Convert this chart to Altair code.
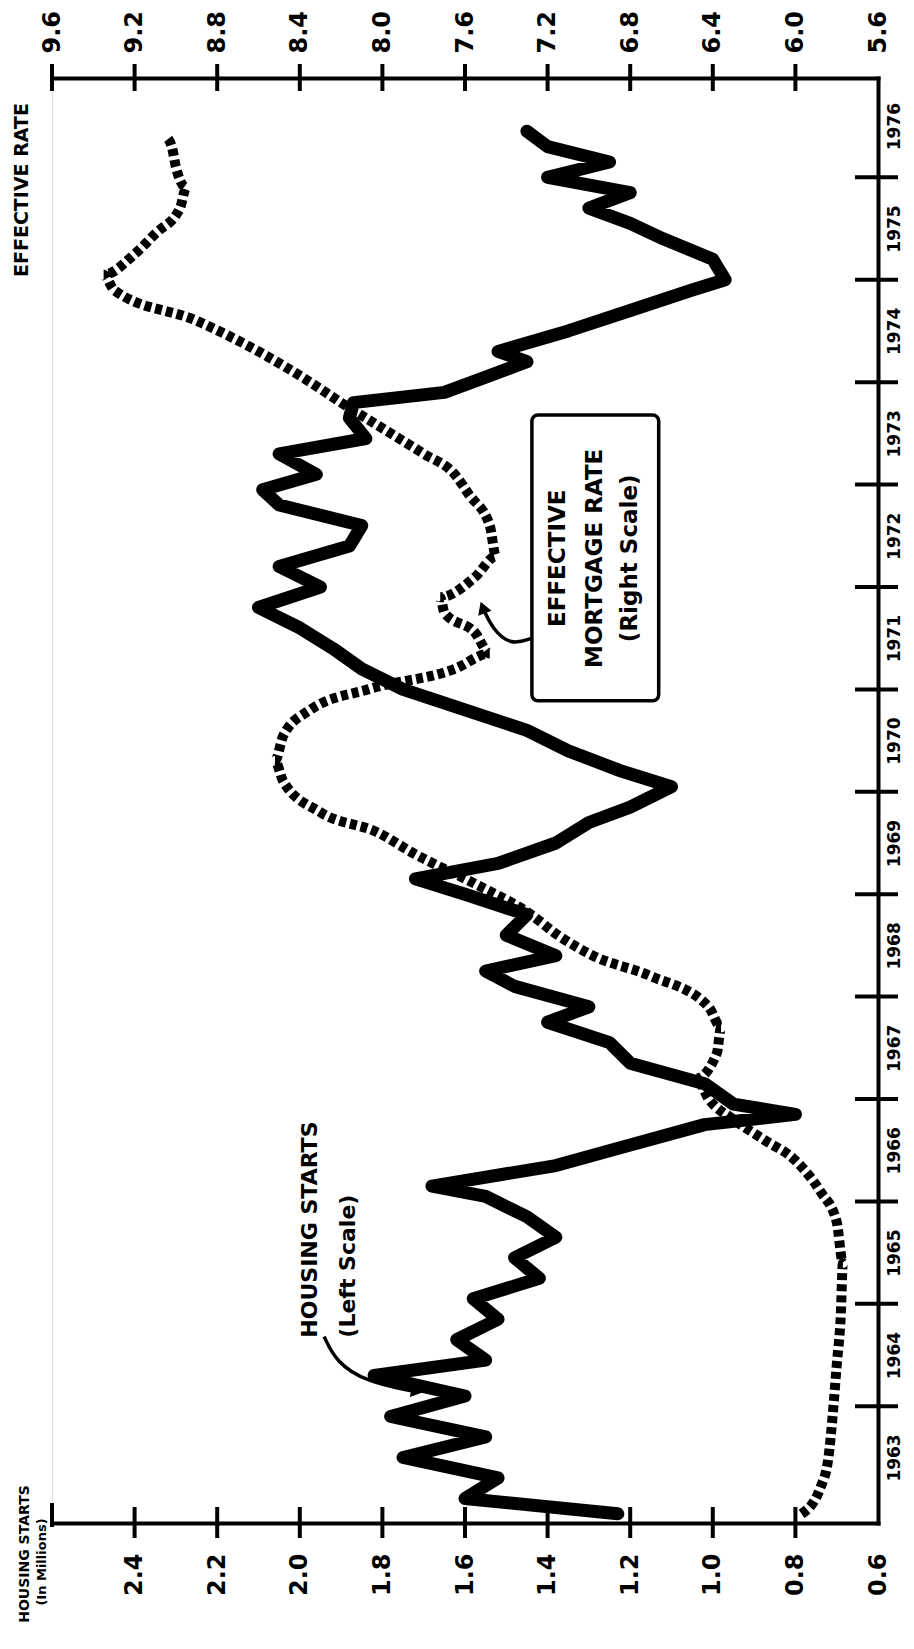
import altair as alt
import pandas as pd

# ---------------- data ----------------
hs_year = [1962.95, 1963.10, 1963.30, 1963.50, 1963.70, 1963.90, 1964.10, 1964.30, 1964.45, 1964.65,
           1964.85, 1965.05, 1965.25, 1965.45, 1965.65, 1965.85, 1966.05, 1966.15, 1966.35, 1966.55,
           1966.75, 1966.85, 1966.95, 1967.15, 1967.35, 1967.55, 1967.75, 1967.90, 1968.10, 1968.25,
           1968.40, 1968.60, 1968.80, 1969.00, 1969.15, 1969.30, 1969.50, 1969.70, 1969.85, 1970.05,
           1970.20, 1970.40, 1970.60, 1970.80, 1971.00, 1971.20, 1971.40, 1971.60, 1971.80, 1972.00,
           1972.20, 1972.40, 1972.60, 1972.80, 1972.95, 1973.10, 1973.30, 1973.45, 1973.65, 1973.80,
           1973.90, 1974.05, 1974.20, 1974.30, 1974.50, 1974.70, 1974.90, 1975.00, 1975.20, 1975.40,
           1975.55, 1975.70, 1975.85, 1976.00, 1976.15, 1976.30, 1976.45]
hs_value = [1.23, 1.60, 1.52, 1.75, 1.55, 1.78, 1.60, 1.82, 1.55, 1.62,
            1.52, 1.58, 1.42, 1.48, 1.38, 1.45, 1.55, 1.68, 1.38, 1.20,
            1.02, 0.80, 0.95, 1.02, 1.20, 1.25, 1.40, 1.30, 1.48, 1.55,
            1.38, 1.50, 1.45, 1.60, 1.72, 1.52, 1.38, 1.30, 1.20, 1.10,
            1.22, 1.35, 1.45, 1.60, 1.75, 1.85, 1.92, 2.00, 2.10, 1.95,
            2.05, 1.88, 1.85, 2.05, 2.09, 1.96, 2.05, 1.84, 1.88, 1.87,
            1.65, 1.55, 1.45, 1.52, 1.35, 1.20, 1.05, 0.97, 1.00, 1.12,
            1.20, 1.30, 1.20, 1.40, 1.25, 1.40, 1.45]

mr_year = [1962.95, 1963.20, 1963.50, 1963.90, 1964.40, 1964.90, 1965.40, 1965.80, 1966.10, 1966.40,
           1966.60, 1966.80, 1967.00, 1967.20, 1967.45, 1967.70, 1967.90, 1968.20, 1968.40, 1968.60,
           1968.80, 1969.10, 1969.40, 1969.60, 1969.80, 1970.10, 1970.30, 1970.55, 1970.80, 1971.00,
           1971.20, 1971.35, 1971.55, 1971.75, 1971.90, 1972.10, 1972.30, 1972.60, 1972.90, 1973.10,
           1973.30, 1973.55, 1973.80, 1974.00, 1974.30, 1974.60, 1974.90, 1975.05, 1975.25, 1975.45,
           1975.70, 1975.90, 1976.10, 1976.30, 1976.40]
mr_value = [5.97, 5.88, 5.84, 5.82, 5.80, 5.78, 5.77, 5.80, 5.88, 6.00,
            6.15, 6.30, 6.42, 6.48, 6.38, 6.36, 6.42, 6.70, 6.98, 7.15,
            7.28, 7.55, 7.85, 8.02, 8.30, 8.48, 8.52, 8.48, 8.35, 8.07,
            7.65, 7.48, 7.55, 7.70, 7.72, 7.55, 7.45, 7.48, 7.58, 7.65,
            7.80, 8.00, 8.20, 8.35, 8.60, 8.90, 9.30, 9.35, 9.20, 9.10,
            8.98, 8.95, 9.00, 9.02, 9.05]

hs_ticks = [0.8, 1.0, 1.2, 1.4, 1.6, 1.8, 2.0, 2.2, 2.4]
hs_labels = [0.6, 0.8, 1.0, 1.2, 1.4, 1.6, 1.8, 2.0, 2.2, 2.4]
mr_ticks = [6.0, 6.4, 6.8, 7.2, 7.6, 8.0, 8.4, 8.8, 9.2, 9.6]
mr_labels = [5.6, 6.0, 6.4, 6.8, 7.2, 7.6, 8.0, 8.4, 8.8, 9.2, 9.6]
year_ticks = list(range(1964, 1977))
year_labels = [y + 0.5 for y in range(1963, 1977)]

HS_DOMAIN = [0.6, 2.6]
MR_DOMAIN = [5.6, 9.6]
YR_DOMAIN = [1962.86, 1976.97]
W, H = 826, 1445
FONT = "DejaVu Sans"

hs = pd.DataFrame({"year": hs_year, "v": hs_value})
mr = pd.DataFrame({"year": mr_year, "v": mr_value})

hscale = alt.Scale(domain=HS_DOMAIN, reverse=True, nice=False, zero=False)
mscale = alt.Scale(domain=MR_DOMAIN, reverse=True, nice=False, zero=False)
yscale = alt.Scale(domain=YR_DOMAIN, nice=False, zero=False)

y_axis = alt.Axis(values=year_labels, labelExpr="floor(datum.value)", orient="right",
                  ticks=False, grid=False, domain=True, domainColor="black", domainWidth=4,
                  domainCap="square", labelAngle=270, labelAlign="center",
                  labelBaseline="top", labelPadding=8, labelFont=FONT, labelFontSize=17,
                  labelFontWeight="bold", labelColor="black", title=None,
                  labelOverlap=False, labelFlush=False, labelBound=False)

hs_axis = alt.Axis(values=hs_labels, format=".1f", orient="bottom", ticks=False, grid=False,
                   domainColor="black", domainWidth=4, domainCap="square", labelAngle=270,
                   labelAlign="right", labelBaseline="middle", labelPadding=30,
                   labelFont=FONT, labelFontSize=24, labelFontWeight="bold",
                   labelColor="black", title=None, labelOverlap=False, labelFlush=False,
                   labelBound=False)

mr_axis = alt.Axis(values=mr_labels, format=".1f", orient="top", ticks=False, grid=False,
                   domainColor="black", domainWidth=4, domainCap="square", labelAngle=270,
                   labelAlign="left", labelBaseline="middle", labelPadding=25,
                   labelFont=FONT, labelFontSize=24, labelFontWeight="bold",
                   labelColor="black", title=None, labelOverlap=False, labelFlush=False,
                   labelBound=False)

hs_line = alt.Chart(hs).mark_line(color="black", strokeWidth=13, strokeJoin="round",
                                  strokeCap="round").encode(
    x=alt.X("v:Q", scale=hscale, axis=hs_axis),
    y=alt.Y("year:Q", scale=yscale, axis=y_axis),
    order="year:Q",
)

mr_line = alt.Chart(mr).mark_line(color="black", strokeWidth=10, strokeDash=[7, 4],
                                  strokeCap="butt", interpolate="monotone").encode(
    x=alt.X("v:Q", scale=mscale, axis=mr_axis),
    y=alt.Y("year:Q", scale=yscale, axis=None),
    order="year:Q",
)

# crossing tick marks
bt = alt.Chart(pd.DataFrame({"v": hs_ticks})).mark_rule(color="black", strokeWidth=4).encode(
    x=alt.X("v:Q", scale=hscale, axis=None), y=alt.value(H - 16), y2=alt.value(H + 15))
bcap = alt.Chart(pd.DataFrame({"v": [2.6]})).mark_rule(color="black", strokeWidth=4).encode(
    x=alt.X("v:Q", scale=hscale, axis=None), y=alt.value(H - 20), y2=alt.value(H + 4))
tt = alt.Chart(pd.DataFrame({"v": mr_ticks})).mark_rule(color="black", strokeWidth=4).encode(
    x=alt.X("v:Q", scale=mscale, axis=None), y=alt.value(-14), y2=alt.value(13))
yt = alt.Chart(pd.DataFrame({"v": year_ticks})).mark_rule(color="black", strokeWidth=4).encode(
    y=alt.Y("v:Q", scale=yscale, axis=None), x=alt.value(W - 23), x2=alt.value(W + 20))

caption_df = pd.DataFrame({
    "t": ["EFFECTIVE RATE", "HOUSING STARTS", "(In Millions)"],
    "px": [-30, -27, -10],
    "py": [112, 1476, 1484],
    "fs": [19, 14, 13],
})
captions = alt.Chart(caption_df).mark_text(angle=270, align="center", baseline="middle",
                                           font=FONT, fontWeight="bold", color="black").encode(
    x=alt.X("px:Q", scale=None), y=alt.Y("py:Q", scale=None), text="t:N",
    size=alt.Size("fs:Q", scale=None, legend=None))

hs_note = pd.DataFrame({"t": ["HOUSING STARTS", "(Left Scale)"], "v": [1.975, 1.883],
                        "year": [1964.67, 1964.67]})
hs_note_text = alt.Chart(hs_note).mark_text(angle=270, align="left", baseline="middle",
                                            font=FONT, fontWeight="bold", fontSize=22,
                                            color="black").encode(
    x=alt.X("v:Q", scale=hscale, axis=None), y=alt.Y("year:Q", scale=yscale, axis=None),
    text="t:N")
hs_arrow = pd.DataFrame({"v": [1.941, 1.912, 1.839, 1.73], "year": [1964.68, 1964.43, 1964.24, 1964.15],
                         "o": [0, 1, 2, 3]})
hs_arrow_line = alt.Chart(hs_arrow).mark_line(color="black", strokeWidth=3.5,
                                              interpolate="basis").encode(
    x=alt.X("v:Q", scale=hscale, axis=None), y=alt.Y("year:Q", scale=yscale, axis=None),
    order="o:Q")
hs_head = alt.Chart(pd.DataFrame({"v": [1.715], "year": [1964.15]})).mark_point(
    shape="triangle-right", filled=True, color="black", size=220, opacity=1, angle=10).encode(
    x=alt.X("v:Q", scale=hscale, axis=None), y=alt.Y("year:Q", scale=yscale, axis=None))

box = alt.Chart(pd.DataFrame({"v1": [1.438], "v2": [1.131], "y1": [1973.68], "y2": [1970.89]})).mark_rect(
    fill="white", stroke="black", strokeWidth=3.5, cornerRadius=6).encode(
    x=alt.X("v1:Q", scale=hscale, axis=None), x2="v2:Q",
    y=alt.Y("y1:Q", scale=yscale, axis=None), y2="y2:Q")
box_df = pd.DataFrame({"t": ["EFFECTIVE", "MORTGAGE RATE", "(Right Scale)"],
                       "v": [1.375, 1.286, 1.201], "year": [1972.28, 1972.28, 1972.28]})
box_text = alt.Chart(box_df).mark_text(angle=270, align="center", baseline="middle",
                                       font=FONT, fontWeight="bold", fontSize=23,
                                       color="black").encode(
    x=alt.X("v:Q", scale=hscale, axis=None), y=alt.Y("year:Q", scale=yscale, axis=None),
    text="t:N")
mr_arrow = pd.DataFrame({"v": [1.438, 1.49, 1.533, 1.555], "year": [1971.50, 1971.43, 1971.59, 1971.78],
                         "o": [0, 1, 2, 3]})
mr_arrow_line = alt.Chart(mr_arrow).mark_line(color="black", strokeWidth=3.5,
                                              interpolate="basis").encode(
    x=alt.X("v:Q", scale=hscale, axis=None), y=alt.Y("year:Q", scale=yscale, axis=None),
    order="o:Q")
mr_head = alt.Chart(pd.DataFrame({"v": [1.557], "year": [1971.8]})).mark_point(
    shape="triangle-up", filled=True, color="black", size=200, opacity=1, angle=340).encode(
    x=alt.X("v:Q", scale=hscale, axis=None), y=alt.Y("year:Q", scale=yscale, axis=None))

chart = alt.layer(
    hs_line, mr_line, bt, bcap, tt, yt, captions, hs_note_text, hs_arrow_line, hs_head,
    box, box_text, mr_arrow_line, mr_head,
).resolve_scale(x="independent").resolve_axis(y="independent").properties(
    width=W, height=H,
    autosize=alt.AutoSizeParams(type="none"),
    padding={"left": 44, "top": 70, "right": 28, "bottom": 110},
).configure_view(stroke=None).configure(background="white")

chart.save("out.html", embed_options={"renderer": "svg", "actions": False})
